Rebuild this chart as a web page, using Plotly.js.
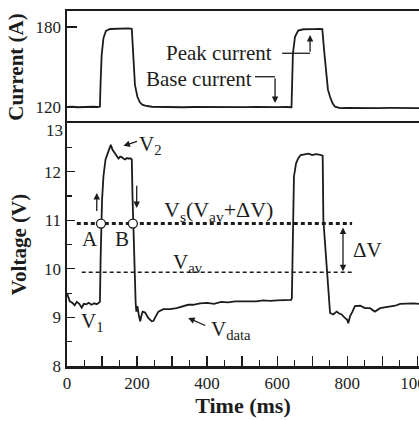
<!DOCTYPE html>
<html><head><meta charset="utf-8">
<script src="https://cdn.plot.ly/plotly-3.0.1.min.js"></script>
<style>html,body{margin:0;padding:0;background:#fff;} #chart{width:419px;height:421px;}</style>
</head><body><div id="chart"></div>
<script>
// ---- data ----
const currentTime = [0,15,30,45,60,75,88,94,96,99,104,111,123,140,160,175,185,187,190,194,201,208,215,223,242,270,300,330,360,390,420,450,480,510,540,570,600,625,641,643,645,651,660,675,690,705,720,729,734,740,745,751,758,765,780,800,830,860,890,920,950,980,1005];
const currentA = [120.0,120.2,119.8,120.1,119.9,120.2,120.0,120.3,139,159,171.5,177,178.5,178.8,178.6,179,178.6,169,151.5,136.5,127.7,123.5,121.8,121,120.2,119.9,120.1,119.8,120.0,119.9,120.1,119.8,120.0,119.9,120.1,119.8,119.9,120.0,119.8,140,160,172.7,177.3,178.3,178.6,178.4,178.6,178.4,162.7,142.7,133,127.7,123,120.2,119.2,119.3,119.1,119.4,119.2,119.3,119.1,119.3,119.2];

const voltTime = [0,4,8,15,22,28,35,42,48,55,62,70,78,85,92,94,96,98,100,104,110,115,120,125,130,137,142,147,152,156,161,166,171,175,182,185,187,189,192,196,198,201,205,209,213,216,223,232,242,247,251,261,275,294,313,332,346,360,380,400,420,440,460,480,500,520,540,560,580,600,620,640,642,644,646,648,654,660,667,680,690,700,710,720,730,732,741,747,751,760,770,777,784,792,800,803,808,815,822,837,851,865,879,894,908,922,937,951,970,989,1005];
const voltV = [9.50,9.40,9.33,9.30,9.25,9.32,9.28,9.20,9.28,9.27,9.30,9.26,9.29,9.27,9.30,9.32,10.2,11.0,11.4,11.9,12.25,12.35,12.45,12.55,12.45,12.38,12.32,12.27,12.31,12.30,12.27,12.25,12.28,12.27,12.27,12.25,11.5,11.0,10.0,9.3,9.12,9.23,9.05,8.92,9.05,9.12,9.10,8.99,8.92,8.93,8.99,9.12,9.17,9.17,9.19,9.23,9.26,9.26,9.29,9.30,9.28,9.32,9.31,9.33,9.33,9.34,9.33,9.35,9.34,9.35,9.36,9.36,9.40,10.3,11.29,11.9,12.17,12.27,12.34,12.35,12.37,12.34,12.36,12.35,12.33,11.0,10.0,9.4,9.09,9.06,9.12,9.08,9.06,9.0,8.95,8.88,9.02,9.12,9.23,9.24,9.19,9.19,9.12,9.19,9.21,9.23,9.24,9.28,9.29,9.29,9.28];

const vsLevel = 10.93;
const vavLevel = 9.93;
const vsLineTime = [28, 814];
const vavLineTime = [42, 814];
const crossTime = [97, 188];

const xTickVals = [0,100,200,300,400,500,600,700,800,900,1000];
const xTickText = ['0','','200','','400','','600','','800','','1000'];
const xMinorVals = [50,150,250,350,450,550,650,750,850,950];
const vTickVals = [8,9,10,11,12,13];
const vTickText = ['8','9','10','11','12',''];   // "13" is drawn a little lower, as in the original
const vMinorVals = [8.5,9.5,10.5,11.5,12.5];
const iTickVals = [120,180];

// ---- style ----
const ink = '#1c1c1c';
const serif = 'Liberation Serif, Times New Roman, serif';

const traces = [
  {x: currentTime, y: currentA, xaxis:'x2', yaxis:'y2', mode:'lines', line:{color:ink, width:1.8}, hoverinfo:'skip'},
  {x: voltTime, y: voltV, xaxis:'x', yaxis:'y', mode:'lines', line:{color:ink, width:1.8}, hoverinfo:'skip'},
  {x: vsLineTime, y: [vsLevel, vsLevel], mode:'lines', line:{color:ink, width:3, dash:'4px,3px'}, hoverinfo:'skip'},
  {x: vavLineTime, y: [vavLevel, vavLevel], mode:'lines', line:{color:ink, width:1.6, dash:'4px,3px'}, hoverinfo:'skip'},
  {x: crossTime, y: [vsLevel, vsLevel], mode:'markers', marker:{symbol:'circle', size:9, color:'#fff', line:{color:ink, width:1.3}}, hoverinfo:'skip'}
];

const axisCommon = {showgrid:false, zeroline:false, showline:true, linecolor:ink, linewidth:2.5,
  tickcolor:ink, tickfont:{family:serif, size:17, color:'#222'}};

function ann(o, size){ return Object.assign({showarrow:false, font:{family:serif, size:size||21, color:ink}}, o); }
function arr(xr, yr, x, y, ax, ay, extra){
  return Object.assign({xref:xr, yref:yr, axref:xr, ayref:yr, x:x, y:y, ax:ax, ay:ay, text:'', showarrow:true,
    arrowhead:2, arrowsize:1, arrowwidth:1.3, arrowcolor:ink}, extra||{});
}

const split = 0.6845;
const layout = {
  width:419, height:421,
  margin:{l:67, r:0, t:11, b:55},
  paper_bgcolor:'#fff', plot_bgcolor:'#fff',
  showlegend:false,
  font:{family:serif, color:ink},
  xaxis: Object.assign({}, axisCommon, {domain:[0,1], range:[0,1005], anchor:'y', mirror:true,
    ticks:'inside', ticklen:10, tickwidth:1.3, tickmode:'array', tickvals:xTickVals, ticktext:xTickText,
    ticklabeloverflow:'allow',
    minor:{ticks:'inside', ticklen:6, tickwidth:1.2, tickcolor:ink, tickmode:'array', tickvals:xMinorVals},
    title:{text:'<b>Time (ms)</b>', font:{family:serif, size:22, color:ink}, standoff:5}}),
  yaxis: Object.assign({}, axisCommon, {domain:[0,split], range:[8,13], anchor:'x',
    ticks:'inside', ticklen:8, tickwidth:1.3, tickmode:'array', tickvals:vTickVals, ticktext:vTickText,
    minor:{ticks:'inside', ticklen:5, tickwidth:1.2, tickcolor:ink, tickmode:'array', tickvals:vMinorVals},
    title:{text:'<b>Voltage (V)</b>', font:{family:serif, size:21, color:ink}, standoff:12}}),
  xaxis2: Object.assign({}, axisCommon, {domain:[0,1], range:[0,1005], anchor:'y2', matches:'x', side:'top', mirror:false,
    showticklabels:false, ticks:''}),
  yaxis2: Object.assign({}, axisCommon, {domain:[split,1], range:[108,192], anchor:'x2',
    ticks:'inside', ticklen:10, tickwidth:1.3, tickmode:'array', tickvals:iTickVals,
    title:{text:'<b>Current (A)</b>', font:{family:serif, size:21, color:ink}, standoff:6}}),
  shapes: [
    {type:'line', xref:'x2', yref:'y2', x0:614, x1:694, y0:160.3, y1:160.3, line:{color:ink, width:1.3}},
    {type:'line', xref:'x2', yref:'y2', x0:537, x1:594, y0:142.7, y1:142.7, line:{color:ink, width:1.3}}
  ],
  annotations: [
    ann({xref:'paper', yref:'y', x:-0.006, y:12.84, xanchor:'right', text:'13', font:{family:serif, size:17, color:'#222'}}),
    ann({xref:'x2', yref:'y2', x:434, y:160.5, text:'Peak current'}),
    ann({xref:'x2', yref:'y2', x:377, y:141, text:'Base current'}),
    arr('x2','y2', 694, 174, 694, 160.3),
    arr('x2','y2', 594, 123, 594, 142.7),
    ann({xref:'x', yref:'y', x:200, y:12.55, xanchor:'left', text:'V<sub>2</sub>'}),
    arr('x','y', 161, 12.53, 204, 12.63),
    arr('x','y', 85, 11.56, 85, 11.16),
    arr('x','y', 199, 11.25, 199, 11.74),
    ann({xref:'x', yref:'y', x:66, y:10.62, text:'A'}),
    ann({xref:'x', yref:'y', x:158, y:10.62, text:'B'}),
    ann({xref:'x', yref:'y', x:272, y:11.19, xanchor:'left', text:'V<sub>s</sub>(V<sub>av</sub>+ΔV)'}, 22),
    ann({xref:'x', yref:'y', x:298, y:10.11, xanchor:'left', text:'V<sub>av</sub>'}),
    ann({xref:'x', yref:'y', x:810, y:10.38, xanchor:'left', text:'ΔV'}),
    arr('x','y', 788, 9.95, 788, 10.88, {arrowside:'end+start'}),
    ann({xref:'x', yref:'y', x:74, y:8.9, text:'V<sub>1</sub>'}),
    ann({xref:'x', yref:'y', x:404, y:8.75, xanchor:'left', text:'V<sub>data</sub>'}),
    arr('x','y', 346, 8.99, 399, 8.82)
  ]
};

Plotly.newPlot('chart', traces, layout, {staticPlot:true, displayModeBar:false});
</script>
</body></html>
